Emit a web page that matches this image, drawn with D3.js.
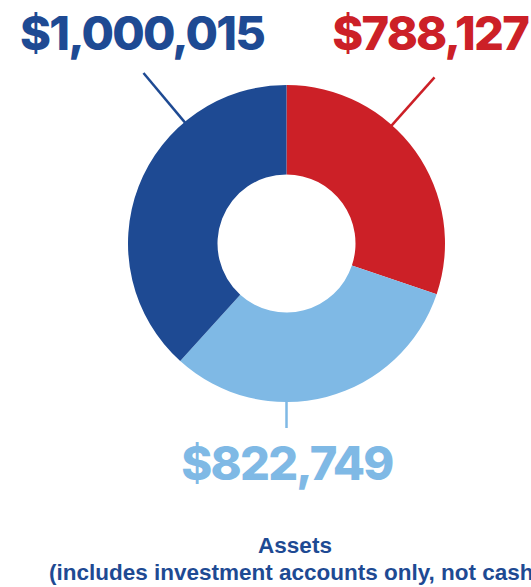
<!DOCTYPE html>
<html>
<head>
<meta charset="utf-8">
<script src="https://cdn.jsdelivr.net/npm/d3@7"></script>
<style>
  html, body { margin: 0; padding: 0; background: #fff; overflow: hidden; }
  svg { display: block; }
</style>
</head>
<body>
<svg id="chart" width="531" height="587"></svg>
<script>
// slices, clockwise from 12 o'clock
var categories = ["Red", "Light blue", "Dark blue"];
var values = [788127, 822749, 1000015];
var labels = ["$788,127", "$822,749", "$1,000,015"];
var colors = ["#cc2027", "#7fb9e5", "#1e4a93"];
// where the leader line leaves the ring (degrees from top) and its length
var leaderAngle = [41.7, 180, 320];
var leaderLen = [64, 26, 64];
var titleLines = ["Assets", "(includes investment accounts only, not cash)"];

var svg = d3.select('#chart');
var cx = 286.5, cy = 243.5, rOuter = 158.5, rInner = 69;

var pie = d3.pie().sort(null).value(function(d) { return d; });
var arc = d3.arc().innerRadius(rInner).outerRadius(rOuter);

var g = svg.append("g").attr("transform", "translate(" + cx + "," + cy + ")");
g.selectAll("path.slice")
    .data(pie(values))
    .enter().append("path")
    .attr("class", "slice")
    .attr("d", arc)
    .attr("fill", function(d, i) { return colors[i]; })
    .attr("stroke", "none");

// leader lines
var rad = function(a) { return a * Math.PI / 180; };
g.selectAll("line.leader")
    .data(categories)
    .enter().append("line")
    .attr("class", "leader")
    .attr("x1", function(d, i) { return Math.sin(rad(leaderAngle[i])) * (rOuter - 2); })
    .attr("y1", function(d, i) { return -Math.cos(rad(leaderAngle[i])) * (rOuter - 2); })
    .attr("x2", function(d, i) { return Math.sin(rad(leaderAngle[i])) * (rOuter + leaderLen[i]); })
    .attr("y2", function(d, i) { return -Math.cos(rad(leaderAngle[i])) * (rOuter + leaderLen[i]); })
    .attr("stroke", function(d, i) { return colors[i]; })
    .attr("stroke-width", 2.5);

// value labels
var labelPos = [
  { x: 528, y: 50, anchor: "end" },
  { x: 287, y: 480, anchor: "middle" },
  { x: 20, y: 50, anchor: "start" }
];
svg.selectAll("text.value")
    .data(labels)
    .enter().append("text")
    .attr("class", "value")
    .attr("x", function(d, i) { return labelPos[i].x; })
    .attr("y", function(d, i) { return labelPos[i].y; })
    .attr("text-anchor", function(d, i) { return labelPos[i].anchor; })
    .attr("fill", function(d, i) { return colors[i]; })
    .style("font-family", "Inter, 'Liberation Sans', sans-serif")
    .style("font-weight", "800")
    .style("font-size", "47px")
    .style("letter-spacing", "-1.8px")
    .text(function(d) { return d; });

// title
svg.selectAll("text.title")
    .data(titleLines)
    .enter().append("text")
    .attr("class", "title")
    .attr("x", 295)
    .attr("y", function(d, i) { return 553 + i * 27; })
    .attr("text-anchor", "middle")
    .attr("fill", "#1e4a93")
    .style("font-family", "'Liberation Sans', Arial, sans-serif")
    .style("font-weight", "bold")
    .style("font-size", "22.5px")
    .text(function(d) { return d; });
</script>
</body>
</html>
